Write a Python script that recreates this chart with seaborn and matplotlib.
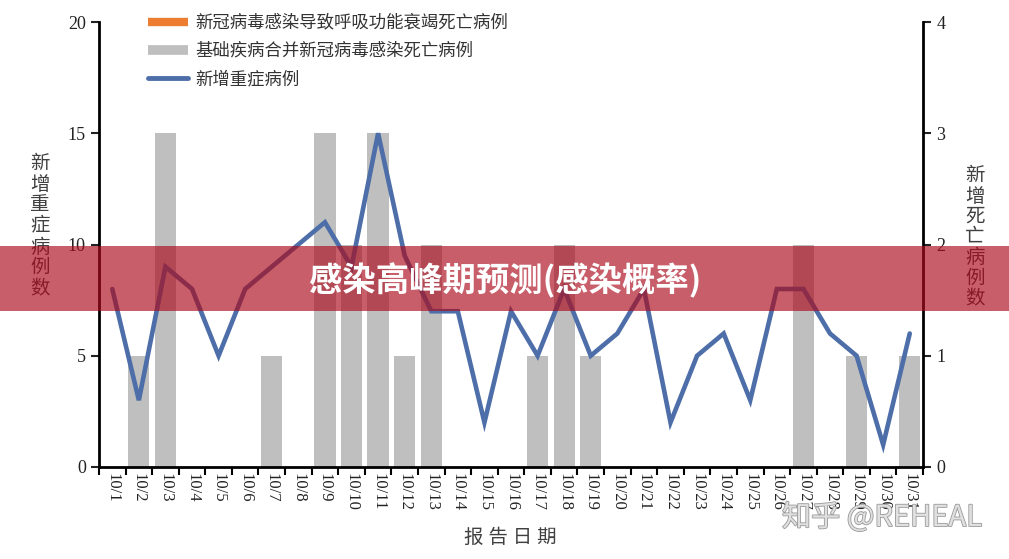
import numpy as np
import pandas as pd
import seaborn as sns
import matplotlib.pyplot as plt
from matplotlib.lines import Line2D
from matplotlib.patches import Rectangle
import matplotlib.patheffects as pe

# data
dates = ['10/1', '10/2', '10/3', '10/4', '10/5', '10/6', '10/7', '10/8', '10/9', '10/10',
         '10/11', '10/12', '10/13', '10/14', '10/15', '10/16', '10/17', '10/18', '10/19', '10/20',
         '10/21', '10/22', '10/23', '10/24', '10/25', '10/26', '10/27', '10/28', '10/29', '10/30', '10/31']
severe_cases = [8, 3, 9, 8, 5, 8, 9, 10, 11, 9, 15, 9.5, 7, 7, 2, 7, 5, 8, 5, 6,
                8, 2, 5, 6, 3, 8, 8, 6, 5, 1, 6]
comorbid_deaths = [0, 1, 3, 0, 0, 0, 1, 0, 3, 2, 3, 1, 2, 0, 0, 0, 1, 2, 1, 0,
                   0, 0, 0, 0, 0, 0, 2, 0, 1, 0, 1]
resp_deaths = [0, 0, 0, 0, 0, 0, 0, 0, 0, 0, 0, 0, 0, 0, 0, 0, 0, 0, 0, 0,
               0, 0, 0, 0, 0, 0, 0, 0, 0, 0, 0]

label_resp = '新冠病毒感染导致呼吸功能衰竭死亡病例'
label_comorbid = '基础疾病合并新冠病毒感染死亡病例'
label_severe = '新增重症病例'

sns.set_style('ticks')
plt.rcParams['font.family'] = ['Liberation Serif', 'Noto Sans CJK SC', 'DejaVu Sans']

df = pd.DataFrame({'date': dates, 'severe': severe_cases,
                   'comorbid': comorbid_deaths, 'resp': resp_deaths})

fig = plt.figure(figsize=(10.09, 5.59), dpi=100)
ax = fig.add_axes([0.0981, 0.1646, 0.8167, 0.796])
ax2 = ax.twinx()

# bars on the right axis (deaths)
sns.barplot(data=df, x='date', y='comorbid', color='#BFBFBF', saturation=1,
            width=0.8, linewidth=0, ax=ax2)
sns.barplot(data=df, x='date', y='resp', color='#ED7D31', saturation=1,
            width=0.8, linewidth=0, ax=ax2)

# line on the left axis (severe cases), drawn above the bars
ax.set_zorder(ax2.get_zorder() + 1)
ax.patch.set_visible(False)
sns.lineplot(x=np.arange(len(dates)), y=df['severe'], ax=ax, color='#4D6EA8',
             linewidth=3.3, solid_joinstyle='miter')

ax.set_ylim(0, 20)
ax2.set_ylim(0, 4)
ax.set_yticks([0, 5, 10, 15, 20])
ax2.set_yticks([0, 1, 2, 3, 4])
ax.set_xlim(-0.5, len(dates) - 0.5)
ax.set_xticks(np.arange(-0.5, len(dates), 1))
ax.set_xticklabels([])
ax.set_xticks(np.arange(len(dates)), minor=True)
ax.set_xticklabels(dates, minor=True, rotation=270, fontsize=12, color='#222222')
ax.tick_params(axis='x', which='major', direction='out', length=6, width=1.5, color='black')
ax.tick_params(axis='x', which='minor', length=0, pad=4)
ax.tick_params(axis='y', direction='out', length=6, width=1.5, labelsize=13,
               colors='#222222')
ax2.tick_params(axis='y', direction='out', length=6, width=1.5, labelsize=13,
                colors='#222222')
ax.set_xlabel('')
ax.set_ylabel('')
ax2.set_ylabel('')
ax2.set_xlabel('')

for s in ['top', 'right']:
    ax.spines[s].set_visible(False)
for s in ['top', 'left', 'bottom']:
    ax2.spines[s].set_visible(False)
for s in ['left', 'bottom']:
    ax.spines[s].set_linewidth(2)
    ax.spines[s].set_color('black')
ax2.spines['right'].set_linewidth(2)
ax2.spines['right'].set_color('black')

# vertical stacked axis titles
fig.text(0.0396, 0.594, '\n'.join('新增重症病例数'), ha='center', va='center',
         fontsize=14, color='#404040', linespacing=1.22)
fig.text(0.966, 0.574, '\n'.join('新增死亡病例数'), ha='center', va='center',
         fontsize=14, color='#404040', linespacing=1.22)
fig.text(510 / 1009, 1 - 538 / 559, '报 告 日 期', ha='center', va='center',
         fontsize=14, color='#404040')

# legend
handles = [
    Line2D([], [], color='#ED7D31', linewidth=6, solid_capstyle='butt'),
    Line2D([], [], color='#BFBFBF', linewidth=7, solid_capstyle='butt'),
    Line2D([], [], color='#4D6EA8', linewidth=3.5, solid_capstyle='round'),
]
leg = ax.legend(handles, [label_resp, label_comorbid, label_severe],
                loc='upper left', bbox_to_anchor=(148 / 1009, 1 - 15 / 559),
                bbox_transform=fig.transFigure, frameon=False, fontsize=12.5,
                handlelength=2.3, handletextpad=0.45, labelspacing=0.66,
                borderaxespad=0, borderpad=0)
for t in leg.get_texts():
    t.set_color('#333333')

# red banner across the figure
band = Rectangle((0, 0.4436), 1, 0.1163, transform=fig.transFigure,
                 facecolor='#AC0A1B', alpha=0.66, edgecolor='none', zorder=10)
fig.add_artist(band)
fig.text(505 / 1009, 1 - 281 / 559, '感染高峰期预测(感染概率)', ha='center', va='center',
         fontsize=24, fontweight='bold', color='white',
         family=['Noto Sans CJK SC', 'DejaVu Sans'], zorder=11)

# watermark
fig.text(882 / 1009, 1 - 518 / 559, '知乎 @REHEAL', ha='center', va='center',
         fontsize=21, color='#e0e0e0', family=['Noto Sans CJK SC', 'DejaVu Sans'],
         zorder=11, path_effects=[pe.withStroke(linewidth=1.2, foreground='#9a9a9a')])

fig.savefig('out.png', dpi=100, facecolor='white')
